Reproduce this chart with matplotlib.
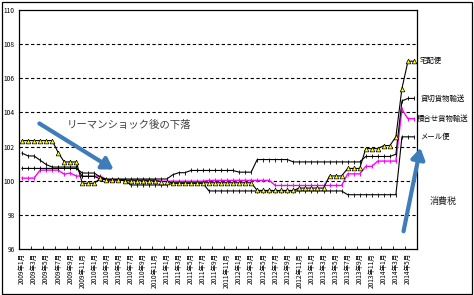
import matplotlib
matplotlib.use("Agg")
import matplotlib.pyplot as plt
from matplotlib.patches import Rectangle

plt.rcParams['font.family'] = ['Noto Sans CJK JP', 'DejaVu Sans']

# ---- data ----
years = [2009]*12 + [2010]*12 + [2011]*12 + [2012]*12 + [2013]*12 + [2014]*6
months = list(range(1, 13))*5 + list(range(1, 7))
categories = [f"{y}年{m}月" for y, m in zip(years, months)]

takuhaibin = ([102.35]*6 + [101.65] + [101.1]*3 + [99.85]*3 + [100.15]
              + [100.05]*3 + [100.0]*6 + [99.95]*2
              + [99.88]*14 + [99.43]*7 + [99.57]*5 + [100.28]*3 + [100.72]*3
              + [101.88]*3 + [102.06]*2 + [102.57] + [105.4] + [107.0]*2)

kashikiri = ([100.72]*10 + [100.45]*3 + [100.2] + [100.1]*11 + [100.35]
             + [100.47]*2 + [100.6]*8 + [100.5]*3 + [101.24]*6 + [101.1]*12
             + [101.42]*5 + [101.55] + [104.67] + [104.82]*2)

tsumiawase = ([100.15]*3 + [100.62]*4 + [100.38] + [100.45] + [100.27]*5
              + [100.05]*9 + [99.97]*8 + [100.02]*11 + [99.72]*12
              + [100.4]*3 + [100.84]*2 + [101.15]*4 + [104.18] + [103.63]*2)

mailbin = ([101.62] + [101.45]*2 + [101.2] + [100.95] + [100.8]*5 + [100.25]*3
           + [100.1] + [100.05]*4 + [99.75]*7 + [99.85]*6 + [99.4]*23
           + [99.18]*9 + [102.57]*3)

series_labels = ["宅配便", "貸切貨物輸送", "積合せ貨物輸送", "メール便"]
yticks = [96, 98, 100, 102, 104, 106, 108, 110]

W, H = 474, 295
def px(x, y):
    return (x / W, 1 - y / H)

fig = plt.figure(figsize=(W/100, H/100), dpi=100)
ax = fig.add_axes([19/W, 1-249/H, (417-19)/W, (249-10)/H])

x = list(range(len(categories)))
ax.plot(x, tsumiawase, color='#FF00FF', lw=1.0, marker='|', ms=2.5, mew=0.7, zorder=3)
ax.plot(x, mailbin, color='black', lw=0.8, marker='|', ms=2.5, mew=0.6, zorder=4)
ax.plot(x, kashikiri, color='black', lw=0.8, marker='|', ms=2.5, mew=0.6, zorder=4)
ax.plot(x, takuhaibin, color='black', lw=0.8, marker='^', ms=3.4, mfc='#FFFF00',
        mec='black', mew=0.5, zorder=5)

ax.set_xlim(-0.5, len(categories) - 0.5)
ax.set_ylim(96, 110)
ax.set_yticks(yticks)
ax.set_yticklabels([str(v) for v in yticks], fontsize=4.8)
ax.tick_params(axis='y', length=0, pad=3)
for v in yticks[1:-1]:
    ax.axhline(v, color='black', lw=0.8, ls=(0, (3, 2.2)), zorder=1)

ax.set_xticks(x[::2])
ax.set_xticklabels(categories[::2], rotation=90, fontsize=4.7, va='top', ha='center')
ax.set_xticks([i - 0.5 for i in x[::2]], minor=True)
ax.tick_params(axis='x', which='major', length=0, pad=3)
ax.tick_params(axis='x', which='minor', direction='in', length=2, width=0.6)
for s in ax.spines.values():
    s.set_linewidth(0.9)

# annotations
arrow_color = '#3E7CBA'
fig.add_artist(matplotlib.patches.FancyArrowPatch(
    px(37, 122), px(116, 171), transform=fig.transFigure,
    arrowstyle='-|>,head_width=0.4,head_length=0.65', mutation_scale=10,
    lw=3, color=arrow_color))
fig.add_artist(matplotlib.patches.FancyArrowPatch(
    px(403, 234), px(421, 145), transform=fig.transFigure,
    arrowstyle='-|>,head_width=0.4,head_length=0.65', mutation_scale=10,
    lw=3, color=arrow_color))

fig.text(*px(67, 125), "リーマンショック後の下落", fontsize=7.5, color='#404040',
         va='center', ha='left')
fig.text(*px(430, 201), "消費税", fontsize=6.5, color='#202020', va='center', ha='left')

label_pos = [(420, 61), (421, 99), (417, 119), (420, 137)]
for lab, (lx, ly) in zip(series_labels, label_pos):
    fig.text(*px(lx, ly), lab, fontsize=5.3, color='black', va='center', ha='left')

fig.add_artist(Rectangle((1.5/W, 1.5/H), 1 - 3.5/W, 1 - 3.5/H, transform=fig.transFigure,
                         fill=False, lw=0.9, ec='black'))

fig.savefig("out.png", dpi=100)
